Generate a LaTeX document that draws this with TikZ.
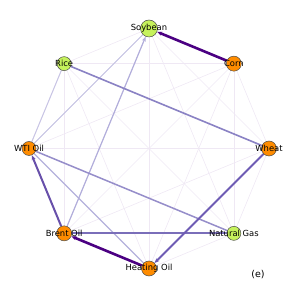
\documentclass[tikz,border=0pt]{standalone}
\usepackage{fontspec}
\setmainfont{DejaVu Sans}
\usetikzlibrary{arrows.meta}
\pgfdeclarelayer{bg}
\pgfsetlayers{bg,main}
\definecolor{dorange}{RGB}{255,140,0}
\definecolor{lgreen}{RGB}{198,242,92}
\definecolor{indig}{RGB}{75,0,130}
\tikzset{
  asset/.style={circle, draw=black!70, line width=0.5pt, minimum size=15pt, inner sep=0pt},
  lbl/.style={font=\fontsize{8.4}{9}\selectfont, inner sep=0pt},
  faint/.style={draw=indig!9, line width=0.6pt},
  tip/.style={-{Stealth[length=5pt,width=4pt]}},
}
\begin{document}
\begin{tikzpicture}[x=1pt,y=1pt]
\useasboundingbox (0,0) rectangle (299,299);
\begin{scope}[shift={(149,150.5)}]
  % the eight markets on a circle
  \node[asset, fill=lgreen, minimum size=17pt] (soy) at (90:120) {};
  \node[asset, fill=dorange] (corn) at (45:120) {};
  \node[asset, fill=dorange] (wheat) at (0:120) {};
  \node[asset, fill=lgreen, minimum size=14pt] (gas) at (-45:120) {};
  \node[asset, fill=dorange] (heat) at (-90:120) {};
  \node[asset, fill=dorange] (brent) at (-135:120) {};
  \node[asset, fill=dorange, minimum size=14pt] (wti) at (180:120) {};
  \node[asset, fill=lgreen, minimum size=14pt] (rice) at (135:120) {};
  \node[lbl] at (soy) {Soybean};
  \node[lbl] at (corn) {Corn};
  \node[lbl] at (wheat) {Wheat};
  \node[lbl] at (gas) {Natural Gas};
  \node[lbl] at (heat) {Heating Oil};
  \node[lbl] at (brent) {Brent Oil};
  \node[lbl] at (wti) {WTI Oil};
  \node[lbl] at (rice) {Rice};
\end{scope}
\begin{pgfonlayer}{bg}
  % every pair, faint
  \foreach \a/\i in {soy/1,corn/2,wheat/3,gas/4,heat/5,brent/6,wti/7,rice/8}
    \foreach \b/\j in {soy/1,corn/2,wheat/3,gas/4,heat/5,brent/6,wti/7,rice/8}
      {\ifnum\i<\j \draw[faint] (\a) -- (\b); \fi}
  % weaker links
  \draw[draw={rgb,255:red,200;green,197;blue,229}, line width=1pt] (wti) -- (rice);
  \draw[draw={rgb,255:red,195;green,192;blue,226}, line width=1pt] (wti) -- (soy);
  \draw[draw={rgb,255:red,182;green,178;blue,220}, line width=1.1pt] (wti) -- (heat);
  \draw[tip, draw={rgb,255:red,178;green,174;blue,219}, fill={rgb,255:red,178;green,174;blue,219}, line width=1.2pt] (brent) -- (soy);
  \draw[draw={rgb,255:red,150;green,142;blue,202}, line width=1.5pt] (wti) -- (gas);
  \draw[draw={rgb,255:red,138;green,130;blue,196}, line width=1.6pt] (rice) -- (wheat);
  \draw[draw={rgb,255:red,122;green,110;blue,185}, line width=1.8pt] (brent) -- (gas);
  % stronger links
  \draw[tip, draw={rgb,255:red,110;green,92;blue,180}, line width=1.8pt] (wheat) -- (heat);
  \draw[tip, draw={rgb,255:red,104;green,80;blue,170}, line width=2pt] (brent) -- (wti);
  \draw[tip, draw=indig, line width=2.6pt] (corn) -- (soy);
  \draw[tip, draw=indig, line width=2.6pt] (heat) -- (brent);
\end{pgfonlayer}
\node[lbl, font=\fontsize{9.5}{11}\selectfont] (tag) at (258,24) {(e)};
\end{tikzpicture}
\end{document}
